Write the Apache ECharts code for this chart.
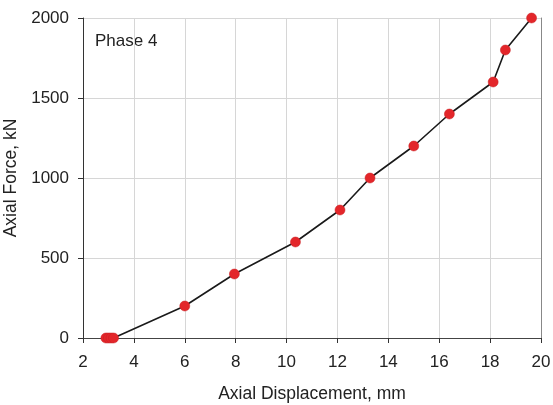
<!DOCTYPE html>
<html>
<head>
<meta charset="utf-8">
<script src="https://cdn.jsdelivr.net/npm/echarts@6/dist/echarts.min.js"></script>
<style>
  html, body { margin: 0; padding: 0; background: #fff; }
  #chart { width: 553px; height: 405px; }
</style>
</head>
<body>
<div id="chart"></div>
<script>
// axial displacement (mm) and axial force (kN), phase 4
const displacement = [2.9, 3.0, 3.1, 3.2, 6.0, 7.95, 10.35, 12.1, 13.28, 15.0, 16.4, 18.12, 18.6, 19.63];
const force = [0, 0, 0, 0, 200, 400, 600, 800, 1000, 1200, 1400, 1600, 1800, 2000];
const phaseLabel = "Phase 4";

const chart = echarts.init(document.getElementById("chart"));
const font = "Liberation Sans, Arial, sans-serif";

const option = {
  animation: false,
  grid: {
    left: 83,
    right: 12,
    top: 18,
    bottom: 67,
    containLabel: false,
    outerBoundsMode: "none",
  },
  xAxis: [
    {
      type: "value",
      min: 2,
      max: 20,
      interval: 2,
      name: "Axial Displacement, mm",
      nameLocation: "middle",
      nameGap: 47,
      nameTextStyle: { fontFamily: font, fontSize: 17.5, color: "#222" },
      axisLine: { onZero: false, lineStyle: { color: "#333", width: 1 } },
      axisTick: { show: true, length: 5, lineStyle: { color: "#333" } },
      axisLabel: { fontFamily: font, fontSize: 17, color: "#222", margin: 16 },
      splitLine: { show: true, lineStyle: { color: "#d6d6d6", width: 1 } },
    },
    {
      type: "value",
      position: "top",
      min: 2,
      max: 20,
      interval: 2,
      axisLine: { show: true, lineStyle: { color: "#444", width: 1 } },
      axisTick: { show: false },
      axisLabel: { show: false },
      splitLine: { show: false },
    },
  ],
  yAxis: [
    {
      type: "value",
      min: 0,
      max: 2000,
      interval: 500,
      name: "Axial Force, kN",
      nameLocation: "middle",
      nameGap: 61,
      nameTextStyle: { fontFamily: font, fontSize: 17.5, color: "#222" },
      axisLine: { show: true, onZero: false, lineStyle: { color: "#333", width: 1 } },
      axisTick: { show: true, length: 5, lineStyle: { color: "#333" } },
      axisLabel: {
        fontFamily: font,
        fontSize: 17,
        color: "#222",
        margin: 14,
        formatter: (v) => String(v),
      },
      splitLine: { show: true, lineStyle: { color: "#d6d6d6", width: 1 } },
    },
    {
      type: "value",
      position: "right",
      min: 0,
      max: 2000,
      interval: 500,
      axisLine: { show: true, lineStyle: { color: "#888", width: 1 } },
      axisTick: { show: false },
      axisLabel: { show: false },
      splitLine: { show: false },
    },
  ],
  series: [
    {
      name: phaseLabel,
      type: "line",
      data: displacement.map((d, i) => [d, force[i]]),
      symbol: "circle",
      symbolSize: 10,
      lineStyle: { color: "#1a1a1a", width: 1.6 },
      itemStyle: { color: "#e3262a", borderColor: "#c81e22", borderWidth: 0.5 },
      z: 5,
    },
  ],
  graphic: [
    {
      type: "text",
      left: 95,
      top: 33,
      style: { text: phaseLabel, fontFamily: font, fontSize: 17, fill: "#222" },
    },
  ],
};

chart.setOption(option);
</script>
</body>
</html>
